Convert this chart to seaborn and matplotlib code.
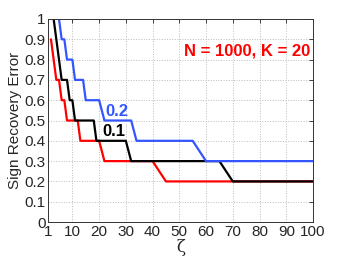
import numpy as np
import pandas as pd
import matplotlib
matplotlib.use("Agg")
import matplotlib.pyplot as plt
import seaborn as sns

# zeta grid (step 1 up to 20, step 2 up to 40, step 5 after)
zeta = list(range(1, 21)) + list(range(22, 41, 2)) + list(range(45, 101, 5))

nan = np.nan
# noise level 0 (red)
err_0 = [nan, 0.9, 0.8, 0.7, 0.7, 0.6, 0.6, 0.5, 0.5, 0.5,
         0.5, 0.5, 0.4, 0.4, 0.4, 0.4, 0.4, 0.4, 0.4, 0.4,
         0.3, 0.3, 0.3, 0.3, 0.3, 0.3, 0.3, 0.3, 0.3, 0.3,
         0.2, 0.2, 0.2, 0.2, 0.2, 0.2, 0.2, 0.2, 0.2, 0.2, 0.2, 0.2]
# noise level 0.1 (black)
err_01 = [nan, nan, 1.0, 0.9, 0.8, 0.7, 0.7, 0.7, 0.6, 0.6,
          0.5, 0.5, 0.5, 0.5, 0.5, 0.5, 0.5, 0.5, 0.4, 0.4,
          0.4, 0.4, 0.4, 0.4, 0.4, 0.3, 0.3, 0.3, 0.3, 0.3,
          0.3, 0.3, 0.3, 0.3, 0.3, 0.2, 0.2, 0.2, 0.2, 0.2, 0.2, 0.2]
# noise level 0.2 (blue)
err_02 = [nan, nan, nan, nan, 1.0, 0.9, 0.9, 0.8, 0.8, 0.8,
          0.7, 0.7, 0.7, 0.7, 0.6, 0.6, 0.6, 0.6, 0.6, 0.6,
          0.5, 0.5, 0.5, 0.5, 0.5, 0.5, 0.4, 0.4, 0.4, 0.4,
          0.4, 0.4, 0.4, 0.3, 0.3, 0.3, 0.3, 0.3, 0.3, 0.3, 0.3, 0.3]

xticks = [1, 10, 20, 30, 40, 50, 60, 70, 80, 90, 100]
yticks = [0, 0.1, 0.2, 0.3, 0.4, 0.5, 0.6, 0.7, 0.8, 0.9, 1]
ytick_labels = ["0", "0.1", "0.2", "0.3", "0.4", "0.5", "0.6", "0.7", "0.8", "0.9", "1"]

df = pd.DataFrame({
    "zeta": zeta * 3,
    "err": err_0 + err_01 + err_02,
    "noise": ["0"] * len(zeta) + ["0.1"] * len(zeta) + ["0.2"] * len(zeta),
})

sns.set_style("white")
plt.rcParams["font.family"] = ["Liberation Sans", "DejaVu Sans"]

fig = plt.figure(figsize=(3.46, 2.60), dpi=100)
ax = fig.add_axes([0.1396, 0.146, 0.7650, 0.781])

sns.lineplot(data=df, x="zeta", y="err", hue="noise",
             palette={"0": "#ff0000", "0.1": "#000000", "0.2": "#3355ff"},
             hue_order=["0", "0.1", "0.2"], linewidth=1.6, legend=False, ax=ax)

ax.set_xlim(1, 100)
ax.set_ylim(0, 1)
ax.set_xticks(xticks)
ax.set_yticks(yticks)
ax.set_yticklabels(ytick_labels)
ax.tick_params(direction="in", length=3, labelsize=11, top=True, right=True,
               width=0.6, pad=2)
ax.grid(True, linestyle=":", color="#bbbbbb", linewidth=0.7)
for s in ax.spines.values():
    s.set_color("#333333")
    s.set_linewidth(0.7)

ax.set_xlabel("ζ", fontsize=12, family=["DejaVu Serif"], labelpad=0)
ax.set_ylabel("Sign Recovery Error", fontsize=11, labelpad=2)

ax.text(26.8, 0.545, "0.2", color="#3355ff", fontsize=12, fontweight="bold",
        ha="center", va="center")
ax.text(25.6, 0.445, "0.1", color="black", fontsize=12, fontweight="bold",
        ha="center", va="center")
ax.text(75.3, 0.84, "N = 1000, K = 20", color="red", fontsize=12,
        fontweight="bold", ha="center", va="center")

fig.savefig("out.png", dpi=100)
